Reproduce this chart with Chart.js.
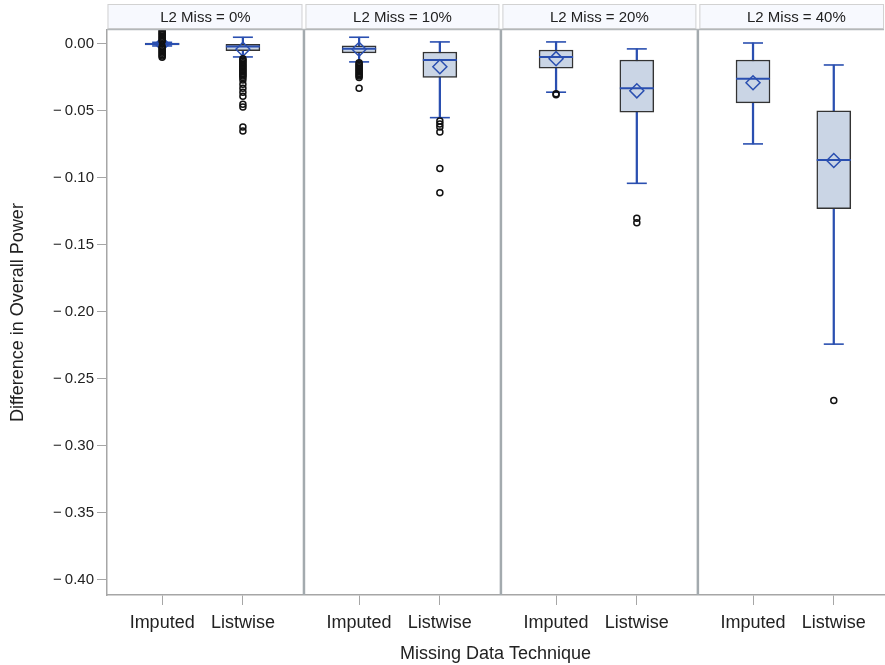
<!DOCTYPE html>
<html>
<head>
<meta charset="utf-8">
<script src="https://cdn.jsdelivr.net/npm/chart.js@4.4.0/dist/chart.umd.min.js"></script>
<style>
  /* le dernier panneau est coupé au bord droit, comme dans l'original */
  html, body { margin: 0; padding: 0; background: #fff; overflow: hidden; }
</style>
</head>
<body>
<canvas id="boxChart" width="903" height="665"></canvas>
<script>
// Panneaux et catégories
const panels = ['L2 Miss = 0%', 'L2 Miss = 10%', 'L2 Miss = 20%', 'L2 Miss = 40%'];
const techniques = ['Imputed', 'Listwise'];
const yTicks = [0, -0.05, -0.10, -0.15, -0.20, -0.25, -0.30, -0.35, -0.40];

// Statistiques lues sur l'image
// ordre : 0% Imputed, 0% Listwise, 10% Imputed, 10% Listwise, 20% ..., 40% ...
const whiskerHigh = [0.0012, 0.0050, 0.0050, 0.0015, 0.0015, -0.0037, 0.0007, -0.0157];
const q3          = [0.0006, 0.0000, -0.0015, -0.0060, -0.0045, -0.0120, -0.0120, -0.0500];
const medians     = [0.0000, -0.0020, -0.0035, -0.0120, -0.0097, -0.0330, -0.0260, -0.0866];
const q1          = [-0.0008, -0.0050, -0.0067, -0.0250, -0.0180, -0.0510, -0.0440, -0.1230];
const whiskerLow  = [-0.0015, -0.0097, -0.0134, -0.0550, -0.0360, -0.1040, -0.0746, -0.2240];
const means       = [0.0000, -0.0040, -0.0040, -0.0170, -0.0110, -0.0350, -0.0290, -0.0870];
const outliers = [
  [0.010, 0.009, 0.008, 0.007, 0.006, 0.005, 0.004, 0.003, 0.002,
   -0.002, -0.003, -0.004, -0.005, -0.006, -0.007, -0.008, -0.009, -0.010],
  [-0.011, -0.012, -0.013, -0.014, -0.015, -0.016, -0.017, -0.018, -0.019, -0.020,
   -0.021, -0.022, -0.023, -0.024, -0.025, -0.027, -0.030, -0.033, -0.036, -0.039,
   -0.045, -0.047, -0.062, -0.065],
  [-0.014, -0.015, -0.016, -0.017, -0.018, -0.019, -0.020, -0.021, -0.022, -0.023,
   -0.024, -0.025, -0.033],
  [-0.0575, -0.0597, -0.062, -0.0657, -0.093, -0.111],
  [-0.0372, -0.0380],
  [-0.1300, -0.1335],
  [],
  [-0.266]
];

// position des catégories dans chaque panneau (axe linéaire)
const catOffset = [0.28, 0.69];
const xPos = [];
panels.forEach((p, i) => catOffset.forEach(o => xPos.push(i + o)));

const blue = '#2A4FB0';
const fontFamily = '"Liberation Sans", Arial, sans-serif';

const pts = arr => arr.map((v, k) => ({ x: xPos[k], y: v }));
const outlierPts = [];
outliers.forEach((list, k) => list.forEach(v => outlierPts.push({ x: xPos[k], y: v })));

// Bandeaux et séparateurs des panneaux
const panelFrame = {
  id: 'panelFrame',
  beforeDatasetsDraw(chart) {
    const { ctx, chartArea, scales } = chart;
    ctx.save();
    ctx.strokeStyle = '#A3AAAE';
    ctx.lineWidth = 2.5;
    for (let i = 1; i < panels.length; i++) {
      const px = scales.x.getPixelForValue(i);
      ctx.beginPath();
      ctx.moveTo(px, chartArea.top);
      ctx.lineTo(px, chartArea.bottom);
      ctx.stroke();
    }
    ctx.restore();
  },
  afterDraw(chart) {
    const { ctx, chartArea, scales } = chart;
    const top = 4, bottom = chartArea.top - 1;
    ctx.save();
    panels.forEach((label, i) => {
      const l = scales.x.getPixelForValue(i) + (i ? 1.5 : 0.5);
      const r = Math.min(scales.x.getPixelForValue(i + 1) - 1.5, chartArea.right);
      ctx.fillStyle = '#F7F9FE';
      ctx.fillRect(l, top, r - l, bottom - top);
      ctx.strokeStyle = '#D2D2D2';
      ctx.lineWidth = 1;
      ctx.strokeRect(l + 0.5, top + 0.5, r - l - 1, bottom - top - 1);
      ctx.fillStyle = '#222';
      ctx.font = '15px ' + fontFamily;
      ctx.textAlign = 'center';
      ctx.textBaseline = 'middle';
      ctx.fillText(label, (scales.x.getPixelForValue(i) + scales.x.getPixelForValue(i + 1)) / 2, (top + bottom) / 2 + 1);
    });
    ctx.strokeStyle = '#B4B8BA';
    ctx.lineWidth = 1.5;
    ctx.beginPath();
    ctx.moveTo(chartArea.left, chartArea.top - 0.5);
    ctx.lineTo(chartArea.right, chartArea.top - 0.5);
    ctx.stroke();
    ctx.restore();
  }
};

const ctx = document.getElementById('boxChart').getContext('2d');
new Chart(ctx, {
  type: 'scatter',
  data: {
    datasets: [
      {
        type: 'bar', label: 'whiskers', order: 6, grouped: false,
        data: whiskerLow.map((v, k) => ({ x: xPos[k], y: [v, whiskerHigh[k]] })),
        backgroundColor: blue, borderWidth: 0, barThickness: 1.6
      },
      {
        type: 'bar', label: 'box', order: 5, grouped: false,
        data: q1.map((v, k) => ({ x: xPos[k], y: [v, q3[k]] })),
        backgroundColor: '#CAD5E5', borderColor: '#333', borderWidth: 1.5,
        borderSkipped: false, barThickness: 34
      },
      {
        label: 'caps', order: 4,
        data: pts(whiskerHigh).concat(pts(whiskerLow)),
        pointStyle: 'line', pointRadius: 10, pointBorderColor: blue, pointBorderWidth: 1.6
      },
      {
        label: 'median', order: 3,
        data: pts(medians),
        pointStyle: 'line', pointRadius: 17, pointBorderColor: blue, pointBorderWidth: 2
      },
      {
        label: 'mean', order: 2,
        data: pts(means),
        pointStyle: 'rectRot', pointRadius: 7, pointBorderColor: blue,
        pointBackgroundColor: 'rgba(0,0,0,0)', pointBorderWidth: 1.5
      },
      {
        label: 'outliers', order: 1,
        data: outlierPts,
        pointStyle: 'circle', pointRadius: 3, pointBorderColor: '#111',
        pointBackgroundColor: 'rgba(0,0,0,0)', pointBorderWidth: 1.5
      }
    ]
  },
  options: {
    responsive: false,
    animation: false,
    layout: { padding: { top: 30, right: 0, bottom: 0, left: 0 } },
    plugins: { legend: { display: false }, tooltip: { enabled: false } },
    scales: {
      x: {
        type: 'linear', min: 0, max: 3.945, offset: false,
        afterFit: s => { s.height = 70; },
        afterBuildTicks: s => { s.ticks = xPos.map(v => ({ value: v })); },
        ticks: {
          autoSkip: false, maxRotation: 0, padding: 7, color: '#222',
          font: { family: fontFamily, size: 18 },
          callback: (v, i) => techniques[i % 2]
        },
        grid: { offset: false, drawOnChartArea: false, tickLength: 10, color: '#A6A6A6' },
        border: { color: '#A6A6A6', width: 1.5 },
        title: {
          display: true, text: 'Missing Data Technique', color: '#222',
          font: { family: fontFamily, size: 18 }, padding: { top: 4, bottom: 0 }
        }
      },
      y: {
        min: -0.4112, max: 0.0104,
        afterFit: s => { s.width = 107; },
        afterBuildTicks: s => { s.ticks = yTicks.map(v => ({ value: v })); },
        ticks: {
          padding: 3, color: '#222',
          font: { family: fontFamily, size: 15 },
          callback: v => (v < 0 ? '\u2212\u2009' : '') + Math.abs(v).toFixed(2)
        },
        grid: { drawOnChartArea: false, tickLength: 10, color: '#A6A6A6' },
        border: { color: '#A6A6A6', width: 1.5 },
        title: {
          display: true, text: 'Difference in Overall Power', color: '#222',
          font: { family: fontFamily, size: 18 }, padding: { top: 7, bottom: 0 }
        }
      }
    }
  },
  plugins: [panelFrame]
});
</script>
</body>
</html>
